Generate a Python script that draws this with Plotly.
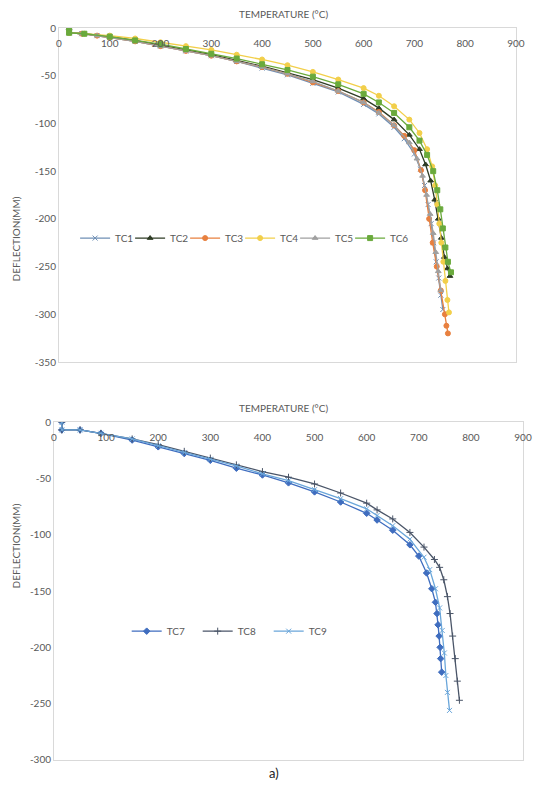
import plotly.graph_objects as go

# ---------------- data (temperature °C, deflection mm) ----------------
T_TC1 = [20, 20, 45, 75, 100, 150, 200, 250, 300, 350, 400, 450, 500, 550, 600, 630, 660, 680, 700, 712, 720, 727, 733, 738, 743, 748, 752, 756]
D_TC1 = [0, -5, -6, -8, -10, -14, -19, -24, -29, -35, -42, -49, -58, -67, -80, -90, -104, -116, -132, -148, -165, -185, -205, -225, -245, -262, -280, -295]

T_TC2 = [20, 20, 50, 100, 150, 200, 250, 300, 350, 400, 450, 500, 550, 600, 630, 660, 690, 710, 722, 732, 740, 747, 753, 759, 765, 770]
D_TC2 = [0, -5, -6, -9, -13, -18, -23, -28, -34, -40, -47, -54, -63, -74, -84, -96, -112, -127, -143, -160, -180, -200, -220, -240, -252, -260]

T_TC3 = [20, 20, 45, 75, 100, 150, 200, 250, 300, 350, 400, 450, 500, 550, 600, 630, 660, 680, 700, 713, 721, 729, 736, 744, 752, 760, 763, 766]
D_TC3 = [0, -5, -6, -8, -10, -14, -19, -24, -29, -35, -41, -48, -57, -66, -78, -88, -102, -113, -128, -149, -170, -200, -225, -250, -275, -300, -312, -320]

T_TC4 = [20, 20, 50, 100, 150, 200, 250, 300, 350, 400, 450, 500, 550, 600, 630, 660, 690, 710, 725, 735, 741, 745, 749, 753, 757, 761, 765, 768]
D_TC4 = [0, -5, -6, -8, -11, -15, -19, -23, -28, -33, -39, -46, -54, -63, -71, -82, -96, -110, -127, -145, -165, -185, -205, -225, -245, -265, -285, -298]

T_TC5 = [20, 20, 45, 75, 100, 150, 200, 250, 300, 350, 400, 450, 500, 550, 600, 630, 660, 690, 705, 716, 724, 731, 737, 742, 747, 752]
D_TC5 = [0, -5, -6, -8, -10, -14, -19, -24, -29, -35, -41, -48, -56, -66, -78, -89, -102, -120, -137, -155, -175, -195, -215, -235, -255, -275]

T_TC6 = [20, 20, 50, 100, 150, 200, 250, 300, 350, 400, 450, 500, 550, 600, 630, 660, 690, 710, 725, 737, 745, 751, 756, 761, 766, 772]
D_TC6 = [0, -5, -6, -9, -13, -17, -22, -27, -32, -38, -44, -51, -59, -69, -78, -89, -104, -118, -133, -150, -170, -190, -210, -230, -245, -256]

T_TC7 = [15, 15, 50, 90, 150, 200, 250, 300, 350, 400, 450, 500, 550, 600, 620, 650, 683, 700, 715, 725, 732, 735, 737, 739, 741, 742, 744]
D_TC7 = [0, -7, -7, -10, -16, -22, -28, -34, -41, -47, -54, -62, -71, -81, -87, -96, -109, -119, -134, -148, -160, -170, -180, -190, -200, -210, -222]

T_TC8 = [15, 15, 50, 90, 150, 200, 250, 300, 350, 400, 450, 500, 550, 600, 620, 650, 683, 710, 730, 740, 748, 755, 760, 765, 770, 774, 778]
D_TC8 = [0, -7, -7, -10, -15, -20, -26, -32, -38, -44, -49, -55, -63, -72, -78, -86, -98, -111, -122, -129, -140, -155, -170, -190, -210, -230, -247]

T_TC9 = [15, 15, 50, 90, 150, 200, 250, 300, 350, 400, 450, 500, 550, 600, 620, 650, 683, 710, 721, 732, 740, 745, 749, 752, 755, 759]
D_TC9 = [0, -7, -7, -10, -15, -21, -27, -33, -39, -46, -52, -60, -68, -77, -83, -92, -104, -120, -131, -148, -165, -185, -205, -225, -240, -256]

x_ticks = [0, 100, 200, 300, 400, 500, 600, 700, 800, 900]
y_ticks_top = [0, -50, -100, -150, -200, -250, -300, -350]
y_ticks_bot = [0, -50, -100, -150, -200, -250, -300]

top_series = [
    ("TC1", T_TC1, D_TC1, "#6F8FB5", "x-thin"),
    ("TC2", T_TC2, D_TC2, "#2E3B24", "triangle-up"),
    ("TC3", T_TC3, D_TC3, "#E8803F", "circle"),
    ("TC4", T_TC4, D_TC4, "#F2CF4A", "circle"),
    ("TC5", T_TC5, D_TC5, "#A0A0A0", "triangle-up"),
    ("TC6", T_TC6, D_TC6, "#6AAA3C", "square"),
]
bot_series = [
    ("TC7", T_TC7, D_TC7, "#3F6DBF", "diamond"),
    ("TC8", T_TC8, D_TC8, "#4A5568", "cross-thin"),
    ("TC9", T_TC9, D_TC9, "#6AA6DA", "x-thin"),
]

fig = go.Figure()
for i, (name, t, d, c, sym) in enumerate(top_series):
    fig.add_trace(go.Scatter(
        x=t, y=d, name=name, mode="lines+markers", xaxis="x", yaxis="y", legend="legend",
        line=dict(color=c, width=1.3),
        marker=dict(symbol=sym, size=5, color=c, line=dict(color=c, width=1)),
        legendwidth=24 if i == len(top_series) - 1 else None,
    ))
for name, t, d, c, sym in bot_series:
    fig.add_trace(go.Scatter(
        x=t, y=d, name=name, mode="lines+markers", xaxis="x2", yaxis="y2", legend="legend2",
        line=dict(color=c, width=1.3),
        marker=dict(symbol=sym, size=5, color=c, line=dict(color=c, width=1)),
    ))

font_gray = "#595959"
axis_common = dict(showgrid=False, zeroline=False, showline=True, mirror=True,
                   linecolor="#D9D9D9", linewidth=1, ticks="",
                   tickfont=dict(size=10, color=font_gray))

fig.update_layout(
    width=544, height=785,
    margin=dict(l=54, r=17, t=28, b=25),
    paper_bgcolor="white", plot_bgcolor="white",
    font=dict(family="Lato, Open Sans, sans-serif", color=font_gray),
    xaxis=dict(domain=[0.0106, 0.985], range=[0, 900], side="top", anchor="y",
               tickvals=x_ticks, ticktext=[str(v) for v in x_ticks],
               ticklabelstandoff=-24, **axis_common),
    yaxis=dict(domain=[0.5437, 1.0], range=[-350, 0], anchor="x",
               tickvals=y_ticks_top, ticktext=[str(v) for v in y_ticks_top], **axis_common),
    xaxis2=dict(domain=[0.0, 1.0], range=[0, 900], side="top", anchor="y2",
                tickvals=x_ticks, ticktext=[str(v) for v in x_ticks],
                ticklabelstandoff=-24, **axis_common),
    yaxis2=dict(domain=[0.0, 0.4617], range=[-300, 0], anchor="x2",
                tickvals=y_ticks_bot, ticktext=[str(v) for v in y_ticks_bot], **axis_common),
    legend=dict(orientation="h", x=0.045, y=0.713, xanchor="left", yanchor="middle",
                bgcolor="rgba(0,0,0,0)", font=dict(size=10, color=font_gray), itemwidth=30,
                entrywidth=10, entrywidthmode="pixels"),
    legend2=dict(orientation="h", x=0.155, y=0.176, xanchor="left", yanchor="middle",
                 bgcolor="rgba(0,0,0,0)", font=dict(size=10, color=font_gray), itemwidth=30,
                 entrywidth=26, entrywidthmode="pixels"),
    annotations=[
        dict(text="TEMPERATURE (°C)", xref="paper", yref="paper", x=0.49, y=1.0, yshift=14,
             showarrow=False, font=dict(size=10, color=font_gray), yanchor="middle"),
        dict(text="TEMPERATURE (°C)", xref="paper", yref="paper", x=0.49, y=0.4617, yshift=14,
             showarrow=False, font=dict(size=10, color=font_gray), yanchor="middle"),
        dict(text="DEFLECTION(MM)", xref="paper", yref="paper", x=0, xshift=-46,
             y=0.772, textangle=-90, showarrow=False, font=dict(size=10, color=font_gray)),
        dict(text="DEFLECTION(MM)", xref="paper", yref="paper", x=0, xshift=-46,
             y=0.231, textangle=-90, showarrow=False, font=dict(size=10, color=font_gray)),
        dict(text="a)", xref="paper", yref="paper", x=0.47, y=0, yshift=-13,
             showarrow=False, font=dict(size=13, color="#222222"), yanchor="middle"),
    ],
)

fig.write_html("out.html")
